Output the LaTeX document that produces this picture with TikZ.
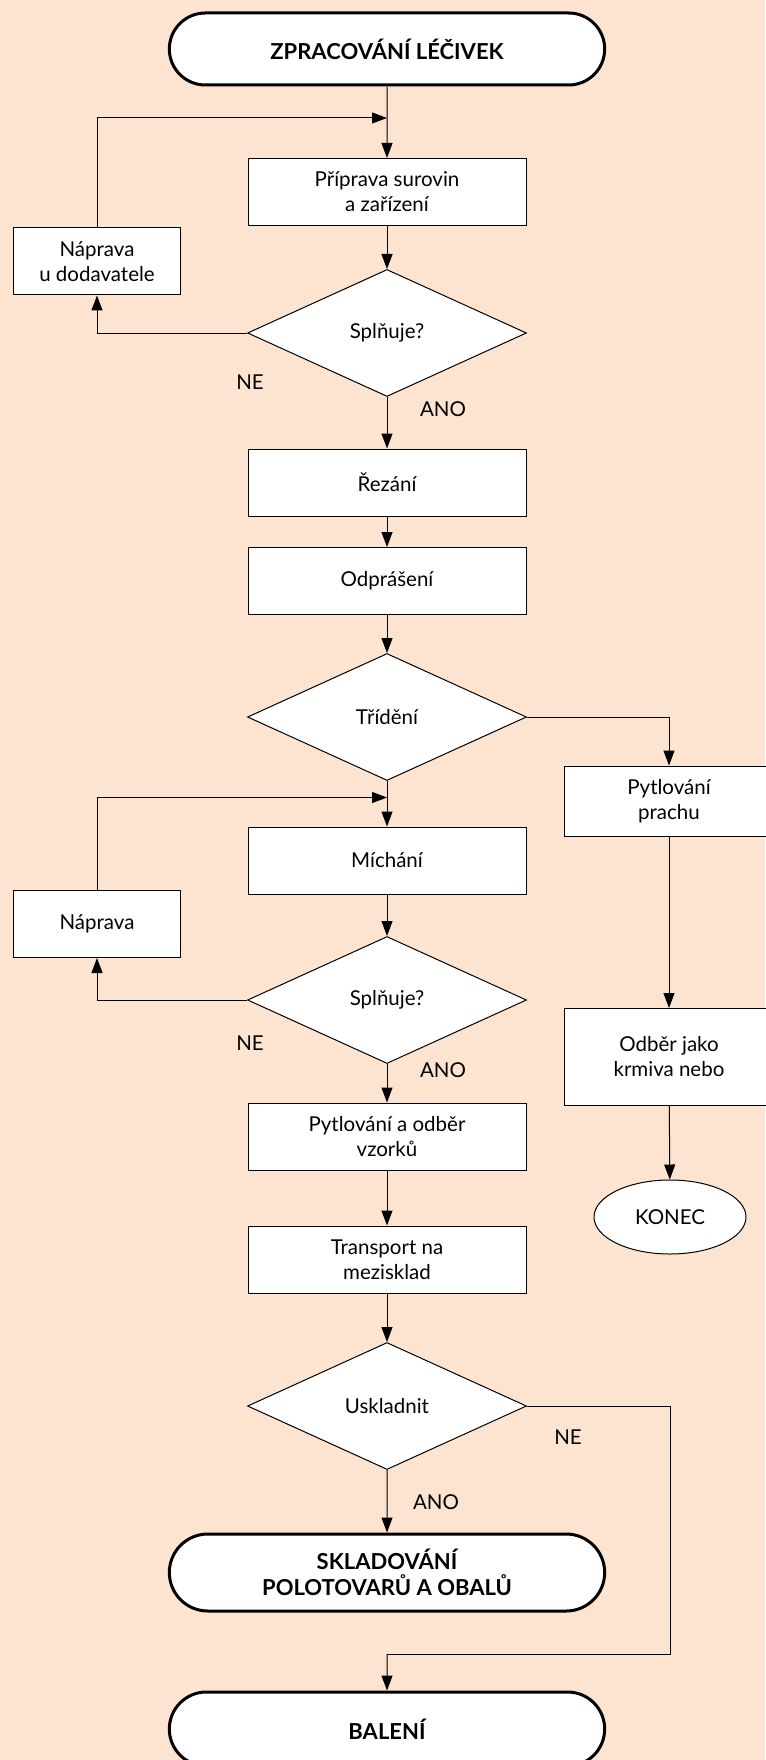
\documentclass[tikz,border=0pt]{standalone}
\usepackage{fontspec}
\setmainfont{Lato}
\usetikzlibrary{shapes.geometric,shapes.misc,arrows.meta}
\definecolor{peach}{RGB}{252,228,209}

\begin{document}
\begin{tikzpicture}[x=1pt, y=1pt, font=\fontsize{20.5}{25}\selectfont,
	proc/.style={draw, fill=white, line width=1pt, align=center, minimum width=278pt, minimum height=67pt, inner sep=2pt},
	side/.style={proc, minimum width=210pt},
	fix/.style={proc, minimum width=167pt},
	dec/.style={draw, fill=white, diamond, line width=1pt, minimum width=279pt, minimum height=127pt, inner sep=0pt},
	term/.style={draw, fill=white, rounded rectangle, line width=3pt, align=center, minimum width=442pt, minimum height=72pt, font=\fontsize{22}{26}\selectfont\bfseries},
	flow/.style={line width=1pt, -{Triangle[length=15pt, width=11pt]}},
	line/.style={line width=1pt}]
	% Background and page size:
	\fill[peach] (0, 0) rectangle (765, -1760);
	\useasboundingbox (0, 0) rectangle (765, -1760);
	% Nodes:
	\node[term] (start) at (387, -49) {ZPRACOVÁNÍ LÉČIVEK};
	\node[proc] (prep) at (387, -192) {Příprava surovin\\a zařízení};
	\node[fix] (supfix) at (97, -261.5) {Náprava\\u dodavatele};
	\node[dec] (check1) at (387, -333) {Splňuje?};
	\node[proc] (cut) at (387, -482.5) {Řezání};
	\node[proc] (dust) at (387, -581) {Odprášení};
	\node[dec] (sort) at (387, -717) {Třídění};
	\node[side, minimum height=70pt] (bagdust) at (669, -801) {Pytlování\\prachu};
	\node[side, minimum height=97pt] (feed) at (669, -1057) {Odběr jako\\krmiva nebo};
	\node[draw, fill=white, ellipse, line width=1pt, minimum width=152pt, minimum height=74pt] (end) at (670, -1217) {KONEC};
	\node[proc] (mix) at (387, -860.5) {Míchání};
	\node[fix] (fix) at (97, -924) {Náprava};
	\node[dec] (check2) at (387, -1000) {Splňuje?};
	\node[proc] (bagsample) at (387, -1136.5) {Pytlování a odběr\\vzorků};
	\node[proc] (move) at (387, -1259.5) {Transport na\\mezisklad};
	\node[dec] (store) at (387, -1406) {Uskladnit};
	\node[term, minimum height=77pt] (stock) at (387, -1572.5) {SKLADOVÁNÍ\\POLOTOVARŮ A OBALŮ};
	\node[term, minimum height=74pt] (pack) at (387, -1729) {BALENÍ};
	% Junction points:
	\coordinate (join1) at (387, -118);
	\coordinate (join2) at (387, -797.5);
	\coordinate (merge) at (387, -1654);
	% Wires:
	\draw[flow] (start) -- (prep);
	\draw[flow] (supfix.north) |- (join1);
	\draw[flow] (prep) -- (check1);
	\draw[flow] (check1.west) -| (supfix.south);
	\draw[flow] (check1) -- (cut);
	\draw[flow] (cut) -- (dust);
	\draw[flow] (dust) -- (sort);
	\draw[flow] (sort) -- (mix);
	\draw[flow] (fix.north) |- (join2);
	\draw[flow] (sort.east) -| (bagdust.north);
	\draw[flow] (bagdust) -- (feed);
	\draw[flow] (feed) -- (end);
	\draw[flow] (mix) -- (check2);
	\draw[flow] (check2.west) -| (fix.south);
	\draw[flow] (check2) -- (bagsample);
	\draw[flow] (bagsample) -- (move);
	\draw[flow] (move) -- (store);
	\draw[flow] (store) -- (stock);
	\draw[line] (store.east) -| (670, -1654) -- (merge);
	\draw[flow] (merge) -- (pack);
	% Labels:
	\node (ne1) at (250, -382) {NE};
	\node (ano1) at (443, -409) {ANO};
	\node (ne2) at (250, -1043) {NE};
	\node (ano2) at (443, -1070) {ANO};
	\node (ne3) at (568, -1437) {NE};
	\node (ano3) at (436, -1502) {ANO};
\end{tikzpicture}
\end{document}
